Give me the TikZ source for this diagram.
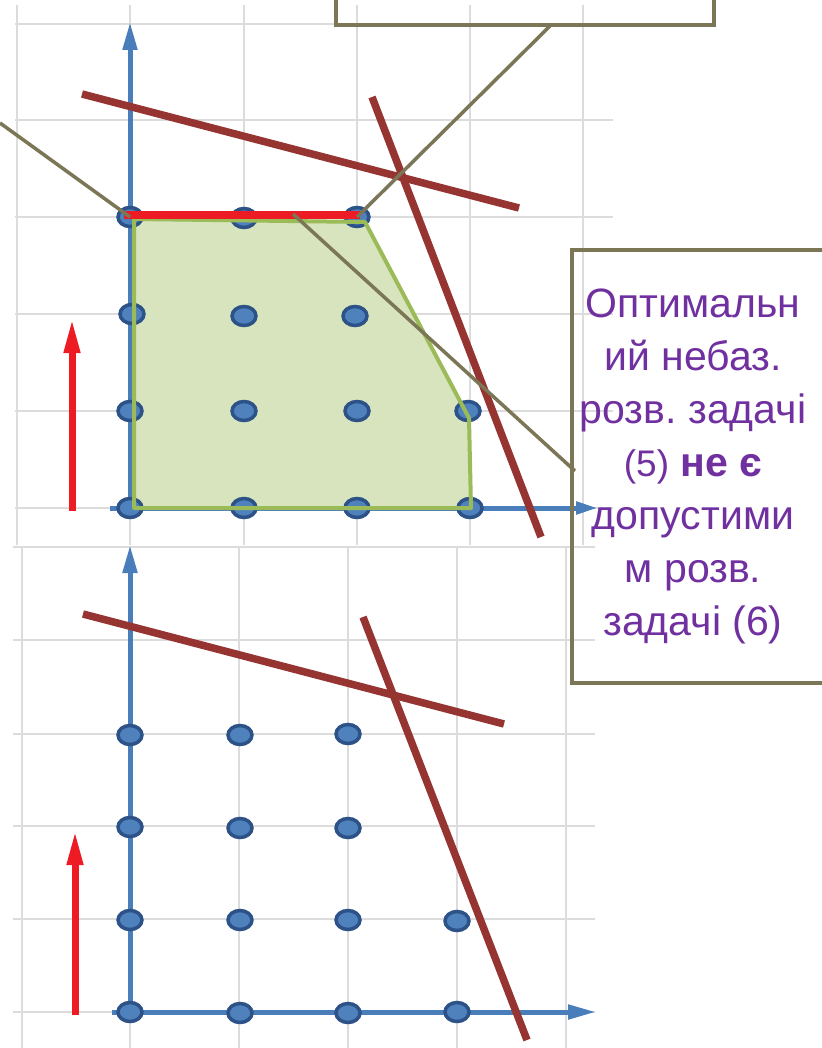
\documentclass[tikz,border=0pt]{standalone}
\usepackage{fontspec}
\newfontfamily\arialf{Liberation Sans}
\usetikzlibrary{arrows.meta,shapes.geometric}
\definecolor{gridc}{RGB}{220,220,220}
\definecolor{axisc}{RGB}{74,126,187}
\definecolor{dotfill}{RGB}{79,129,189}
\definecolor{dotline}{RGB}{44,82,135}
\definecolor{brownc}{RGB}{150,52,50}
\definecolor{regfill}{RGB}{215,228,189}
\definecolor{regline}{RGB}{155,187,89}
\definecolor{olivec}{RGB}{122,118,86}
\definecolor{purp}{RGB}{112,48,160}
\definecolor{redc}{RGB}{237,28,36}
\tikzset{
  gridline/.style={gridc, line width=1.3pt},
  axisline/.style={axisc, line width=5pt, -{Triangle[length=28pt,width=14pt]}},
  dotnode/.style={ellipse, draw=dotline, fill=dotfill, line width=3.5pt, inner sep=0pt, minimum width=24pt, minimum height=19pt},
  limitline/.style={brownc, line width=7.5pt},
  callout/.style={olivec, line width=3.5pt},
  boxstyle/.style={draw=olivec, line width=4pt, rectangle, inner sep=0pt},
  redarrow/.style={redc, line width=7pt, -{Triangle[length=35pt,width=15pt]}},
  optseg/.style={redc, line width=7.5pt},
  regionfill/.style={fill=regfill},
  regionedge/.style={draw=regline, line width=4pt, line join=round}
}
\begin{document}
\begin{tikzpicture}[x=1pt,y=-1pt]
\useasboundingbox (0,0) rectangle (821,1048);
\fill[white] (0,0) rectangle (821,1048);
% ---------- top panel grid
\foreach \x in {17,130,244,357,470,583} \draw[gridline] (\x,5) -- (\x,545);
\foreach \y in {24,120,217,314,411,508} \draw[gridline] (15,\y) -- (613,\y);
% ---------- bottom panel grid
\foreach \x in {22,130,239,348,457,566} \draw[gridline] (\x,547) -- (\x,1048);
\foreach \y in {547,640,734,826,919,1012} \draw[gridline] (13,\y) -- (595,\y);
% ---------- feasible region (fill)
\fill[regionfill] (134,219) -- (365,222) -- (461,403) -- (469,418) -- (471,508) -- (134,508) -- cycle;
% ---------- axes
\coordinate (tyS) at (130,512); \coordinate (tyE) at (130,22);
\coordinate (txS) at (110,508); \coordinate (txE) at (598,508);
\coordinate (byS) at (130,1016); \coordinate (byE) at (130,545);
\coordinate (bxS) at (112,1012); \coordinate (bxE) at (596,1012);
\draw[axisline] (tyS) -- (tyE);
\draw[axisc, line width=5pt, -{Triangle[length=22pt,width=12pt]}] (txS) -- (txE);
\draw[axisline] (byS) -- (byE);
\draw[axisline] (bxS) -- (bxE);
% ---------- top dots
\node[dotnode] (t11) at (130,217) {};
\node[dotnode] (t12) at (244,218) {};
\node[dotnode] (t13) at (357,217) {};
\node[dotnode] (t21) at (132,314) {};
\node[dotnode] (t22) at (244,316) {};
\node[dotnode] (t23) at (355,316) {};
\node[dotnode] (t31) at (130,411) {};
\node[dotnode] (t32) at (244,411) {};
\node[dotnode] (t33) at (357,411) {};
\node[dotnode] (t34) at (468,411) {};
\node[dotnode] (t41) at (130,508) {};
\node[dotnode] (t42) at (244,508) {};
\node[dotnode] (t43) at (357,508) {};
\node[dotnode] (t44) at (470,508) {};
% ---------- bottom dots
\node[dotnode] (b11) at (130,735) {};
\node[dotnode] (b12) at (240,735) {};
\node[dotnode] (b13) at (348,734) {};
\node[dotnode] (b21) at (130,827) {};
\node[dotnode] (b22) at (240,828) {};
\node[dotnode] (b23) at (348,828) {};
\node[dotnode] (b31) at (130,920) {};
\node[dotnode] (b32) at (240,920) {};
\node[dotnode] (b33) at (348,920) {};
\node[dotnode] (b34) at (457,921) {};
\node[dotnode] (b41) at (130,1012) {};
\node[dotnode] (b42) at (240,1013) {};
\node[dotnode] (b43) at (348,1013) {};
\node[dotnode] (b44) at (457,1012) {};
% ---------- feasible region (edge)
\draw[regionedge] (134,219) -- (365,222) -- (461,403) -- (469,418) -- (471,508) -- (134,508) -- cycle;
% ---------- optimal segment
\draw[optseg] (124,215) -- (360,215);
% ---------- constraint lines
\coordinate (tl1a) at (82,94);  \coordinate (tl1b) at (519,208);
\coordinate (tl2a) at (372,97); \coordinate (tl2b) at (541,537);
\coordinate (bl1a) at (83,614); \coordinate (bl1b) at (504,724);
\coordinate (bl2a) at (363,617); \coordinate (bl2b) at (527,1040);
\draw[limitline] (tl1a) -- (tl1b);
\draw[limitline] (tl2a) -- (tl2b);
\draw[limitline] (bl1a) -- (bl1b);
\draw[limitline] (bl2a) -- (bl2b);
% ---------- red arrows
\coordinate (ra1) at (72,511); \coordinate (ra2) at (72,318);
\coordinate (rb1) at (75,1015); \coordinate (rb2) at (75,830);
\draw[redarrow] (ra1) -- (ra2);
\draw[redarrow] (rb1) -- (rb2);
% ---------- boxes
\node[boxstyle, minimum width=378pt, minimum height=60pt] (topbox) at (525,-5) {};
\node[boxstyle, minimum width=278pt, minimum height=433pt] (notebox) at (711,466.5) {};
\node[purp, align=center, inner sep=0pt, anchor=north,
      font=\arialf\fontsize{41}{53}\selectfont] (note) at (693,289)
  {Оптимальн\\ий небаз.\\розв.~задачі\\{\fontsize{37}{53}\selectfont(5)} \textbf{не є}\\допустими\\м розв.\\задачі (6)};
% ---------- callout lines
\coordinate (cl1) at (0,123);
\coordinate (cl2) at (551,25);
\coordinate (cl3) at (575,471);
\coordinate (cp3) at (293,214);
\draw[callout] (cl1) -- (t11.center);
\draw[callout] (t13.center) -- (cl2);
\draw[callout] (cp3) -- (cl3);
\end{tikzpicture}
\end{document}
